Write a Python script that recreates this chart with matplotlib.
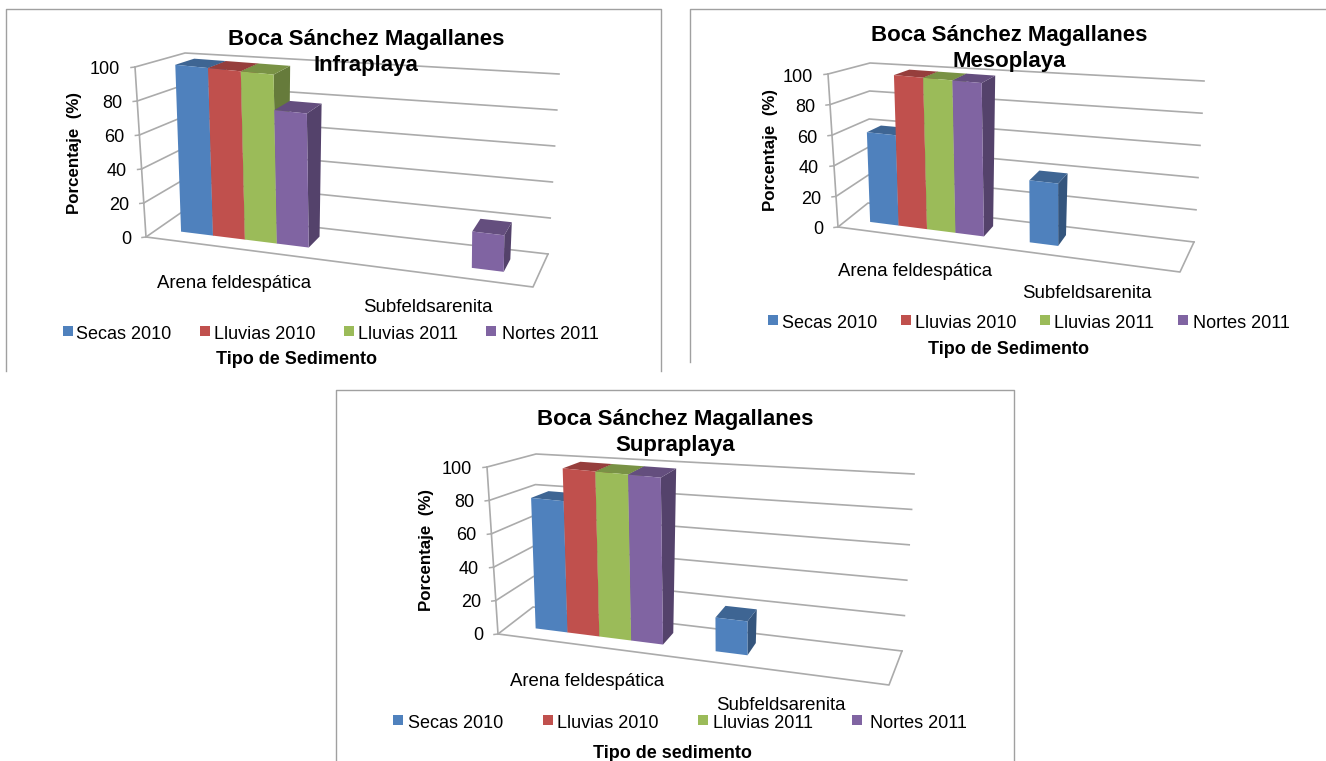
# Three pseudo 3D column charts for Boca Sanchez Magallanes
import matplotlib
matplotlib.use("Agg")
import matplotlib.pyplot as plt
from matplotlib.patches import Polygon, Rectangle
import numpy as np

plt.rcParams['font.family'] = ['Liberation Sans', 'DejaVu Sans']

# Data (percent), one value per season
seasons = ['Secas 2010', 'Lluvias 2010', 'Lluvias 2011', 'Nortes 2011']
sediments = ['Arena feldespática', 'Subfeldsarenita']
ticks = [0, 20, 40, 60, 80, 100]
infra_arena = [100, 100, 100, 79]
infra_sub = [0, 0, 0, 21]
meso_arena = [60, 100, 100, 100]
meso_sub = [40, 0, 0, 0]
supra_arena = [80, 100, 100, 100]
supra_sub = [20, 0, 0, 0]

colors = ['#4F81BD', '#C0504D', '#9BBB59', '#8064A2']
grid_color = '#ABABAB'
frame_color = '#A0A0A0'

# Layout of each panel, in pixels of the figure. corners are the ends of the box:
# f0/f100 front left, b0/b100 back left, r0/r100 back right, fr0/fr100 front right
panels = [
    dict(title='Infraplaya', xlabel='Tipo de Sedimento', arena=infra_arena, sub=infra_sub,
         f0=(146, 237), f100=(135, 67), b0=(182, 212), b100=(185, 53),
         r0=(548, 254), r100=(559, 74), fr0=(533, 287), fr100=(533, 115),
         start=(0.061, 0.574), width=0.084,
         frame=[(6, 371), (6, 9), (661, 9), (661, 371)],
         title_xy=(366, 39), ylabel_xy=(75, 153), xlabel_xy=(297, 359),
         cat_xy=[(234, 284), (428, 308)], legend_y=334.5, tick_dy=2,
         legend_x=[(63, 76), (200, 214), (344, 358), (486, 502)]),
    dict(title='Mesoplaya', xlabel='Tipo de Sedimento', arena=meso_arena, sub=meso_sub,
         f0=(838, 227), f100=(828, 74), b0=(868, 203), b100=(870, 63),
         r0=(1194, 242), r100=(1204, 81), fr0=(1180, 272), fr100=(1180, 112),
         start=(0.066, 0.54), width=0.0845,
         frame=[(690, 362), (690, 9), (1326, 9)],
         title_xy=(1009, 36), ylabel_xy=(770, 150), xlabel_xy=(1008, 349),
         cat_xy=[(915, 272), (1087, 293)], legend_y=324, tick_dy=3,
         legend_x=[(768, 782), (901, 915), (1040, 1054), (1178, 1193)]),
    dict(title='Supraplaya', xlabel='Tipo de sedimento', arena=supra_arena, sub=supra_sub,
         f0=(498, 634), f100=(487, 467), b0=(533, 607), b100=(536, 454),
         r0=(902, 651), r100=(914, 474), fr0=(889, 685), fr100=(889, 513),
         start=(0.068, 0.537), width=0.083,
         frame=[(336, 761), (336, 390), (1014, 390), (1014, 761)],
         title_xy=(675, 419), ylabel_xy=(427, 550), xlabel_xy=(672, 753),
         cat_xy=[(587, 681), (781, 706)], legend_y=724, tick_dy=2,
         legend_x=[(393, 408), (543, 557), (698, 713), (852, 870)]),
]

DEPTH_FRONT = 0.33
DEPTH_BACK = 0.72


def project(p, u, d, v):
    # u along the categories, d from front to back, v is the percent value
    v = v / 100
    low = (1 - d) * ((1 - u) * np.array(p['f0']) + u * np.array(p['fr0'])) \
        + d * ((1 - u) * np.array(p['b0']) + u * np.array(p['r0']))
    high = (1 - d) * ((1 - u) * np.array(p['f100']) + u * np.array(p['fr100'])) \
        + d * ((1 - u) * np.array(p['b100']) + u * np.array(p['r100']))
    return (1 - v) * low + v * high


def darker(color, amount):
    return tuple(c * amount for c in matplotlib.colors.to_rgb(color))


def draw_bar(ax, p, left, right, value, color):
    if value <= 0:
        return
    fl = project(p, left, DEPTH_FRONT, value)
    fr = project(p, right, DEPTH_FRONT, value)
    bl = project(p, left, DEPTH_BACK, value)
    br = project(p, right, DEPTH_BACK, value)
    fl0 = project(p, left, DEPTH_FRONT, 0)
    fr0 = project(p, right, DEPTH_FRONT, 0)
    br0 = project(p, right, DEPTH_BACK, 0)
    ax.add_patch(Polygon([fr, br, br0, fr0], fc=darker(color, 0.66), ec='none', zorder=3))
    ax.add_patch(Polygon([fl, bl, br, fr], fc=darker(color, 0.78), ec='none', zorder=3))
    ax.add_patch(Polygon([fl, fr, fr0, fl0], fc=color, ec='none', zorder=3))


def draw_panel(ax, p):
    # frame of the pasted chart, some sides were cropped in the original
    xs, ys = zip(*p['frame'])
    ax.plot(xs, ys, color=frame_color, lw=1.0, zorder=1)

    # walls and floor
    for t in ticks:
        pts = np.array([project(p, 0, 0, t), project(p, 0, 1, t), project(p, 1, 1, t)])
        ax.plot(pts[:, 0], pts[:, 1], color=grid_color, lw=1.2, zorder=2)
        tick = project(p, 0, 0, t)
        ax.plot([tick[0] - 4, tick[0]], [tick[1] + 0.5, tick[1]], color=grid_color, lw=1.1, zorder=2)
        ax.text(tick[0] - 15, tick[1] + p['tick_dy'], str(t), ha='right', va='center', fontsize=13, zorder=5)
    floor = np.array([project(p, 1, 1, 0), project(p, 1, 0, 0), project(p, 0, 0, 0)])
    ax.plot(floor[:, 0], floor[:, 1], color=grid_color, lw=1.2, zorder=2)
    edge = np.array([project(p, 0, 0, 0), project(p, 0, 0, 100)])
    ax.plot(edge[:, 0], edge[:, 1], color=grid_color, lw=1.2, zorder=2)

    # columns, left to right so each one hides the side of the one before
    for start, values in zip(p['start'], [p['arena'], p['sub']]):
        for i, value in enumerate(values):
            left = start + i * p['width']
            draw_bar(ax, p, left, left + p['width'], value, colors[i])

    ax.text(p['title_xy'][0], p['title_xy'][1], 'Boca Sánchez Magallanes', ha='center', va='center',
            fontsize=16, fontweight='bold', zorder=6)
    ax.text(p['title_xy'][0], p['title_xy'][1] + 26, p['title'], ha='center', va='center',
            fontsize=16, fontweight='bold', zorder=6)
    ax.text(p['ylabel_xy'][0], p['ylabel_xy'][1], 'Porcentaje  (%)', rotation=90, ha='center', va='center',
            fontsize=12.2, fontweight='bold', zorder=6)
    ax.text(p['xlabel_xy'][0], p['xlabel_xy'][1], p['xlabel'], ha='center', va='center',
            fontsize=13, fontweight='bold', zorder=6)
    for name, xy in zip(sediments, p['cat_xy']):
        ax.text(xy[0], xy[1], name, ha='center', va='center', fontsize=13.4, zorder=6)
    for i, name in enumerate(seasons):
        box_x, text_x = p['legend_x'][i]
        ax.add_patch(Rectangle((box_x, p['legend_y'] - 9), 10, 10, fc=colors[i], ec='none', zorder=5))
        ax.text(text_x, p['legend_y'], name, ha='left', va='center', fontsize=13, zorder=6)


fig = plt.figure(figsize=(13.26, 7.61), dpi=100)
ax = fig.add_axes([0, 0, 1, 1])
ax.set_xlim(0, 1326)
ax.set_ylim(761, 0)
ax.axis('off')

for p in panels:
    draw_panel(ax, p)

fig.savefig('out.png', dpi=100)
